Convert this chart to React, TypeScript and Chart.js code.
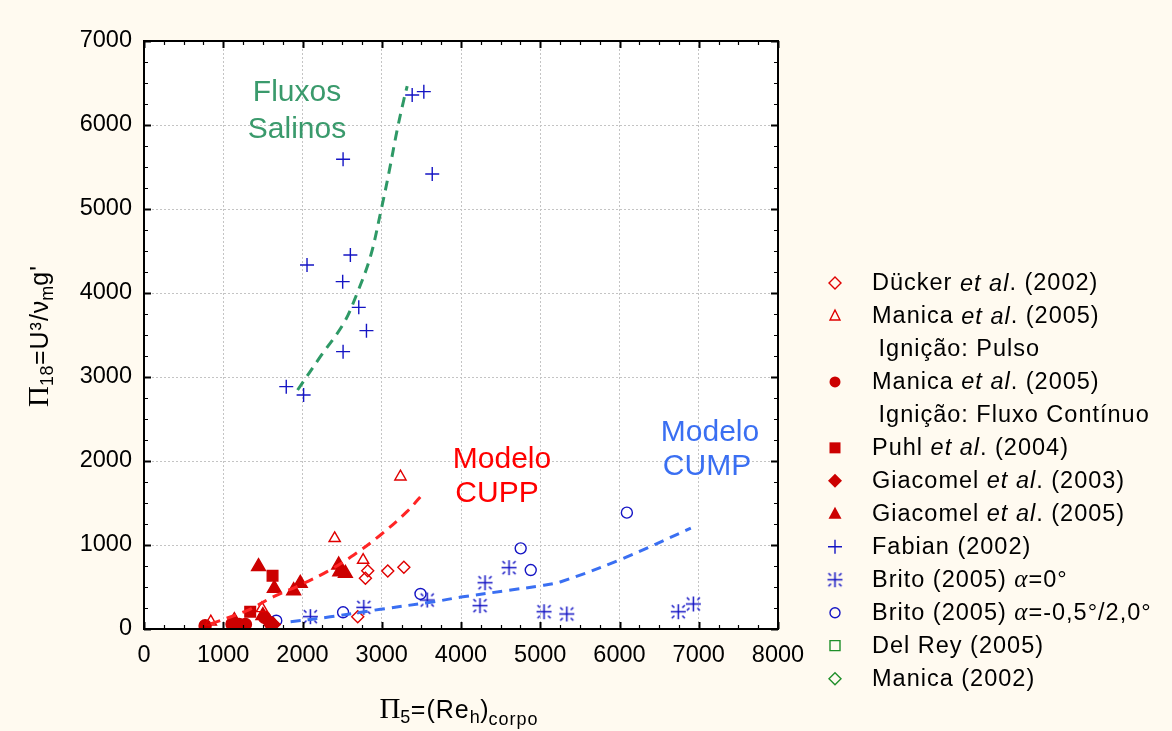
import React, { useEffect, useRef } from "react";
import { Chart, registerables } from "chart.js";
Chart.register(...registerables);

const SANS = '"Liberation Sans", Arial, sans-serif';
const SERIF = '"Liberation Serif", "Times New Roman", serif';

// ---- axes ----
const X_TICKS = [0, 1000, 2000, 3000, 4000, 5000, 6000, 7000, 8000];
const Y_TICKS = [0, 1000, 2000, 3000, 4000, 5000, 6000, 7000];
const MINOR_STEP = 250;

// ---- data series ----
const duckerX = [2697, 2794, 2823, 3076, 3279];
const duckerY = [147, 603, 694, 690, 734];
const manicaPulsoX = [843, 1488, 2406, 2765, 3236];
const manicaPulsoY = [87, 246, 1080, 821, 1813];
const manicaContX = [771, 1110, 1200, 1280, 1520, 1590];
const manicaContY = [38, 60, 55, 55, 140, 75];
const puhlX = [1340, 1622];
const puhlY = [206, 635];
const giac03X = [1560, 1630];
const giac03Y = [105, 55];
const giac05X = [1140, 1445, 1500, 1644, 1888, 1972, 2457, 2470, 2541];
const giac05Y = [100, 742, 160, 484, 456, 544, 762, 682, 663];
const fabianX = [3384, 3531, 2512, 3637, 2604, 2057, 2507, 2710, 2807, 2512, 1795, 2014];
const fabianY = [6357, 6397, 5592, 5417, 4452, 4333, 4135, 3829, 3552, 3302, 2885, 2786];
const brito0X = [2099, 2773, 3574, 4239, 4303, 4606, 5048, 5335, 6742, 6932];
const brito0Y = [147, 258, 345, 278, 551, 730, 206, 179, 206, 298];
const britoAX = [1669, 2512, 3489, 4753, 4880, 6093];
const britoAY = [99, 199, 417, 960, 702, 1385];

// ---- fitted model curves ----
const salineFitX = [1938, 2225, 2520, 2689, 2857, 2992, 3089, 3194, 3278, 3321];
const salineFitY = [2845, 3242, 3639, 3996, 4433, 4988, 5425, 5940, 6298, 6464];
const cuppFitX = [840, 1300, 1635, 1972, 2310, 2647, 2984, 3321, 3530];
const cuppFitY = [60, 220, 385, 524, 683, 881, 1119, 1400, 1620];
const cumpFitX = [1850, 2350, 2985, 3660, 4000, 4630, 5000, 5260, 6020, 6900];
const cumpFitY = [85, 145, 235, 325, 380, 464, 515, 563, 830, 1200];

// ---- colours ----
const BG = "#fffaf0";
const RED_OUT = "#e00000";
const RED_FILL = "#cc0000";
const BLUE_MK = "#1414c4";
const GREEN_MK = "#1f8f2a";
const GREEN_FIT = "#2e9966";
const RED_FIT = "#ff2525";
const BLUE_FIT = "#3a6ff2";

// ---- legend ----
type Part = [string, string];
const LEGEND: { marker: string | null; parts: Part[] }[] = [
  { marker: "diamondOutRed", parts: [["Dücker ", "n"], ["et al", "i"], [". (2002)", "n"]] },
  { marker: "triOutRed", parts: [["Manica ", "n"], ["et al", "i"], [". (2005)", "n"]] },
  { marker: null, parts: [[" Ignição: Pulso", "n"]] },
  { marker: "circleRed", parts: [["Manica ", "n"], ["et al", "i"], [". (2005)", "n"]] },
  { marker: null, parts: [[" Ignição: Fluxo Contínuo", "n"]] },
  { marker: "squareRed", parts: [["Puhl ", "n"], ["et al", "i"], [". (2004)", "n"]] },
  { marker: "diamondRed", parts: [["Giacomel ", "n"], ["et al", "i"], [". (2003)", "n"]] },
  { marker: "triRed", parts: [["Giacomel ", "n"], ["et al", "i"], [". (2005)", "n"]] },
  { marker: "plusBlue", parts: [["Fabian (2002)", "n"]] },
  { marker: "starBlue", parts: [["Brito (2005) ", "n"], ["α", "g"], ["=0°", "n"]] },
  { marker: "circleOutBlue", parts: [["Brito (2005) ", "n"], ["α", "g"], ["=-0,5°/2,0°", "n"]] },
  { marker: "squareOutGreen", parts: [["Del Rey (2005)", "n"]] },
  { marker: "diamondOutGreen", parts: [["Manica (2002)", "n"]] },
];

function makeStarCanvas(color: string) {
  const size = 17;
  const c = document.createElement("canvas");
  c.width = size;
  c.height = size;
  const g = c.getContext("2d")!;
  const m = size / 2;
  g.strokeStyle = color;
  g.lineWidth = 1.5;
  g.beginPath();
  g.moveTo(m, m - 7.5);
  g.lineTo(m, m + 7.5);
  g.moveTo(m - 7.5, m);
  g.lineTo(m + 7.5, m);
  for (const [sx, sy] of [[1, 1], [1, -1], [-1, 1], [-1, -1]]) {
    g.moveTo(m + sx * 4, m + sy * 4);
    g.lineTo(m + sx * 6.5, m + sy * 6.5);
  }
  g.stroke();
  return c;
}

function drawMarker(ctx: CanvasRenderingContext2D, kind: string, x: number, y: number, star: HTMLCanvasElement) {
  ctx.save();
  ctx.lineWidth = 1.4;
  ctx.beginPath();
  switch (kind) {
    case "diamondOutRed":
    case "diamondOutGreen": {
      const r = 6;
      ctx.moveTo(x, y - r); ctx.lineTo(x + r, y); ctx.lineTo(x, y + r); ctx.lineTo(x - r, y); ctx.closePath();
      ctx.strokeStyle = kind === "diamondOutRed" ? RED_OUT : GREEN_MK;
      ctx.stroke();
      break;
    }
    case "diamondRed": {
      const r = 7;
      ctx.moveTo(x, y - r); ctx.lineTo(x + r, y); ctx.lineTo(x, y + r); ctx.lineTo(x - r, y); ctx.closePath();
      ctx.fillStyle = RED_FILL; ctx.fill();
      break;
    }
    case "triOutRed":
      ctx.moveTo(x, y - 6); ctx.lineTo(x + 5, y + 4); ctx.lineTo(x - 5, y + 4); ctx.closePath();
      ctx.strokeStyle = RED_OUT; ctx.stroke();
      break;
    case "triRed":
      ctx.moveTo(x, y - 7); ctx.lineTo(x + 6.5, y + 5); ctx.lineTo(x - 6.5, y + 5); ctx.closePath();
      ctx.fillStyle = RED_FILL; ctx.fill();
      break;
    case "circleRed":
      ctx.arc(x, y, 5.5, 0, Math.PI * 2);
      ctx.fillStyle = RED_FILL; ctx.fill();
      break;
    case "squareRed":
      ctx.rect(x - 5.5, y - 5.5, 11, 11);
      ctx.fillStyle = RED_FILL; ctx.fill();
      break;
    case "squareOutGreen":
      ctx.rect(x - 5, y - 5, 10, 10);
      ctx.strokeStyle = GREEN_MK; ctx.stroke();
      break;
    case "plusBlue":
      ctx.moveTo(x - 7, y); ctx.lineTo(x + 7, y); ctx.moveTo(x, y - 7); ctx.lineTo(x, y + 7);
      ctx.strokeStyle = BLUE_MK; ctx.stroke();
      break;
    case "circleOutBlue":
      ctx.arc(x, y, 5, 0, Math.PI * 2);
      ctx.strokeStyle = BLUE_MK; ctx.stroke();
      break;
    case "starBlue":
      ctx.drawImage(star, x - star.width / 2, y - star.height / 2);
      break;
  }
  ctx.restore();
}

type Seg = { t: string; font: string; dy: number; ls?: number };
function drawRich(ctx: CanvasRenderingContext2D, segs: Seg[], cx: number, y: number) {
  let total = 0;
  const widths = segs.map((s) => {
    ctx.font = s.font;
    (ctx as any).letterSpacing = (s.ls || 0) + "px";
    const w = ctx.measureText(s.t).width;
    total += w;
    return w;
  });
  let x = cx - total / 2;
  segs.forEach((s, i) => {
    ctx.font = s.font;
    (ctx as any).letterSpacing = (s.ls || 0) + "px";
    ctx.fillText(s.t, x, y + s.dy);
    x += widths[i];
  });
  (ctx as any).letterSpacing = "0px";
}

export default function App() {
  const ref = useRef<HTMLCanvasElement>(null);
  useEffect(() => {
    const canvas = ref.current!;
    const star = makeStarCanvas(BLUE_MK);

    const pts = (xs: number[], ys: number[]) => xs.map((x, i) => ({ x, y: ys[i] }));
    const fit = (label: string, xs: number[], ys: number[], color: string) => ({
      label,
      data: pts(xs, ys),
      showLine: true,
      borderColor: color,
      borderWidth: 3,
      borderDash: [10, 7],
      pointRadius: 0,
      fill: false,
      tension: 0.35,
    });
    const mk = (label: string, xs: number[], ys: number[], style: string | HTMLCanvasElement, radius: number, fillC: string, strokeC: string) => ({
      label,
      data: pts(xs, ys),
      showLine: false,
      pointStyle: style,
      pointRadius: radius,
      pointBackgroundColor: fillC,
      pointBorderColor: strokeC,
      pointBorderWidth: 1.4,
    });

    const decor = {
      id: "decor",
      beforeDraw(chart: any) {
        const { ctx, chartArea: a, width, height } = chart;
        ctx.save();
        ctx.fillStyle = BG;
        ctx.fillRect(0, 0, width, height);
        ctx.fillStyle = "#ffffff";
        ctx.fillRect(a.left, a.top, a.right - a.left, a.bottom - a.top);
        ctx.restore();
      },
      afterDraw(chart: any) {
        const { ctx, chartArea: a } = chart;
        const xs = chart.scales.x;
        const ys = chart.scales.y;
        ctx.save();
        // ticks (inward)
        ctx.strokeStyle = "#000";
        for (let v = 0; v <= 8000; v += MINOR_STEP) {
          const px = Math.round(xs.getPixelForValue(v)) + 0.5;
          const major = v % 1000 === 0;
          const len = major ? 7 : 4;
          ctx.lineWidth = major ? 2 : 1.2;
          ctx.beginPath();
          ctx.moveTo(px, a.bottom); ctx.lineTo(px, a.bottom - len);
          ctx.moveTo(px, a.top); ctx.lineTo(px, a.top + len);
          ctx.stroke();
        }
        for (let v = 0; v <= 7000; v += MINOR_STEP) {
          const py = Math.round(ys.getPixelForValue(v)) + 0.5;
          const major = v % 1000 === 0;
          const len = major ? 7 : 4;
          ctx.lineWidth = major ? 2 : 1.2;
          ctx.beginPath();
          ctx.moveTo(a.left, py); ctx.lineTo(a.left + len, py);
          ctx.moveTo(a.right, py); ctx.lineTo(a.right - len, py);
          ctx.stroke();
        }
        // frame
        ctx.lineWidth = 2;
        ctx.strokeRect(a.left, a.top, a.right - a.left, a.bottom - a.top);

        // annotations
        ctx.textAlign = "center";
        ctx.textBaseline = "middle";
        ctx.font = `30px ${SANS}`;
        ctx.fillStyle = "#3a9a6c";
        ctx.fillText("Fluxos", 297, 93);
        ctx.fillText("Salinos", 297, 130);
        ctx.fillStyle = "#ff0000";
        ctx.fillText("Modelo", 502, 460);
        ctx.fillText("CUPP", 497, 494);
        ctx.fillStyle = BLUE_FIT;
        ctx.fillText("Modelo", 710, 433);
        ctx.fillText("CUMP", 707, 467);

        // legend
        ctx.textAlign = "left";
        ctx.textBaseline = "middle";
        ctx.fillStyle = "#000";
        LEGEND.forEach((item, i) => {
          const y = 283 + i * 32.97;
          if (item.marker) drawMarker(ctx, item.marker, 835, y, star);
          let x = item.marker ? 872 : 871;
          ctx.fillStyle = "#000";
          for (const [t, kind] of item.parts) {
            ctx.font = kind === "i" ? `italic 23.5px ${SANS}` : kind === "g" ? `italic 25px ${SERIF}` : `23.5px ${SANS}`;
            (ctx as any).letterSpacing = "1px";
            ctx.fillText(t, x, y + 1);
            x += ctx.measureText(t).width;
          }
          (ctx as any).letterSpacing = "0px";
        });

        // axis titles
        ctx.textAlign = "left";
        ctx.textBaseline = "alphabetic";
        ctx.fillStyle = "#000";
        drawRich(
          ctx,
          [
            { t: "Π", font: `29px ${SERIF}`, dy: 0 },
            { t: "5", font: `18px ${SANS}`, dy: 5, ls: 0.5 },
            { t: "=(Re", font: `25px ${SANS}`, dy: 0, ls: 1 },
            { t: "h", font: `18px ${SANS}`, dy: 5, ls: 0.5 },
            { t: ")", font: `25px ${SANS}`, dy: 0 },
            { t: "corpo", font: `18px ${SANS}`, dy: 7, ls: 1 },
          ],
          459,
          718
        );
        ctx.save();
        ctx.translate(40, 336);
        ctx.rotate(-Math.PI / 2);
        drawRich(
          ctx,
          [
            { t: "Π", font: `29px ${SERIF}`, dy: 0 },
            { t: "18", font: `18px ${SANS}`, dy: 5, ls: 0.5 },
            { t: "=U³/", font: `25px ${SANS}`, dy: 0, ls: 1 },
            { t: "ν", font: `25px ${SANS}`, dy: 0 },
            { t: "m", font: `18px ${SANS}`, dy: 5 },
            { t: "g'", font: `25px ${SANS}`, dy: 0, ls: 1 },
          ],
          0,
          8
        );
        ctx.restore();
        ctx.restore();
      },
    };

    const tickFont = { family: SANS, size: 23.5 };
    const chart = new Chart(canvas, {
      type: "scatter",
      data: {
        datasets: [
          fit("Fluxos Salinos", salineFitX, salineFitY, GREEN_FIT),
          fit("Modelo CUPP", cuppFitX, cuppFitY, RED_FIT),
          fit("Modelo CUMP", cumpFitX, cumpFitY, BLUE_FIT),
          mk("Dücker et al. (2002)", duckerX, duckerY, "rectRot", 6, "transparent", RED_OUT),
          mk("Manica et al. (2005) Pulso", manicaPulsoX, manicaPulsoY, "triangle", 6.5, "transparent", RED_OUT),
          mk("Manica et al. (2005) Fluxo", manicaContX, manicaContY, "circle", 6, RED_FILL, RED_FILL),
          mk("Puhl et al. (2004)", puhlX, puhlY, "rect", 7.5, RED_FILL, RED_FILL),
          mk("Giacomel et al. (2003)", giac03X, giac03Y, "rectRot", 7, RED_FILL, RED_FILL),
          mk("Giacomel et al. (2005)", giac05X, giac05Y, "triangle", 8, RED_FILL, RED_FILL),
          mk("Fabian (2002)", fabianX, fabianY, "cross", 7, "transparent", BLUE_MK),
          mk("Brito (2005) a=0", brito0X, brito0Y, star, 7, "transparent", BLUE_MK),
          mk("Brito (2005) a=-0,5/2,0", britoAX, britoAY, "circle", 5.5, "transparent", BLUE_MK),
        ] as any,
      },
      options: {
        animation: false,
        responsive: true,
        maintainAspectRatio: false,
        layout: { padding: { left: 0, top: 41, right: 394, bottom: 0 } },
        plugins: { legend: { display: false }, tooltip: { enabled: false }, title: { display: false } },
        scales: {
          x: {
            type: "linear",
            min: 0,
            max: 8000,
            afterBuildTicks: (s: any) => {
              s.ticks = X_TICKS.map((v) => ({ value: v }));
            },
            afterFit: (s: any) => {
              s.height = 102;
            },
            grid: { color: "#c4c4c4", lineWidth: 1, drawTicks: false },
            border: { display: false, dash: [2, 2] },
            ticks: { padding: 12, color: "#000", font: tickFont, maxRotation: 0, autoSkip: false, callback: (v: any) => String(v) },
          },
          y: {
            type: "linear",
            min: 0,
            max: 7000,
            afterBuildTicks: (s: any) => {
              s.ticks = Y_TICKS.map((v) => ({ value: v }));
            },
            afterFit: (s: any) => {
              s.width = 144;
            },
            grid: { color: "#c4c4c4", lineWidth: 1, drawTicks: false },
            border: { display: false, dash: [2, 2] },
            ticks: { padding: 12, color: "#000", font: tickFont, autoSkip: false, callback: (v: any) => String(v) },
          },
        },
      } as any,
      plugins: [decor],
    });
    return () => chart.destroy();
  }, []);

  return (
    <div style={{ position: "fixed", left: 0, top: 0, width: 1172, height: 731, background: BG }}>
      <canvas ref={ref} />
    </div>
  );
}
